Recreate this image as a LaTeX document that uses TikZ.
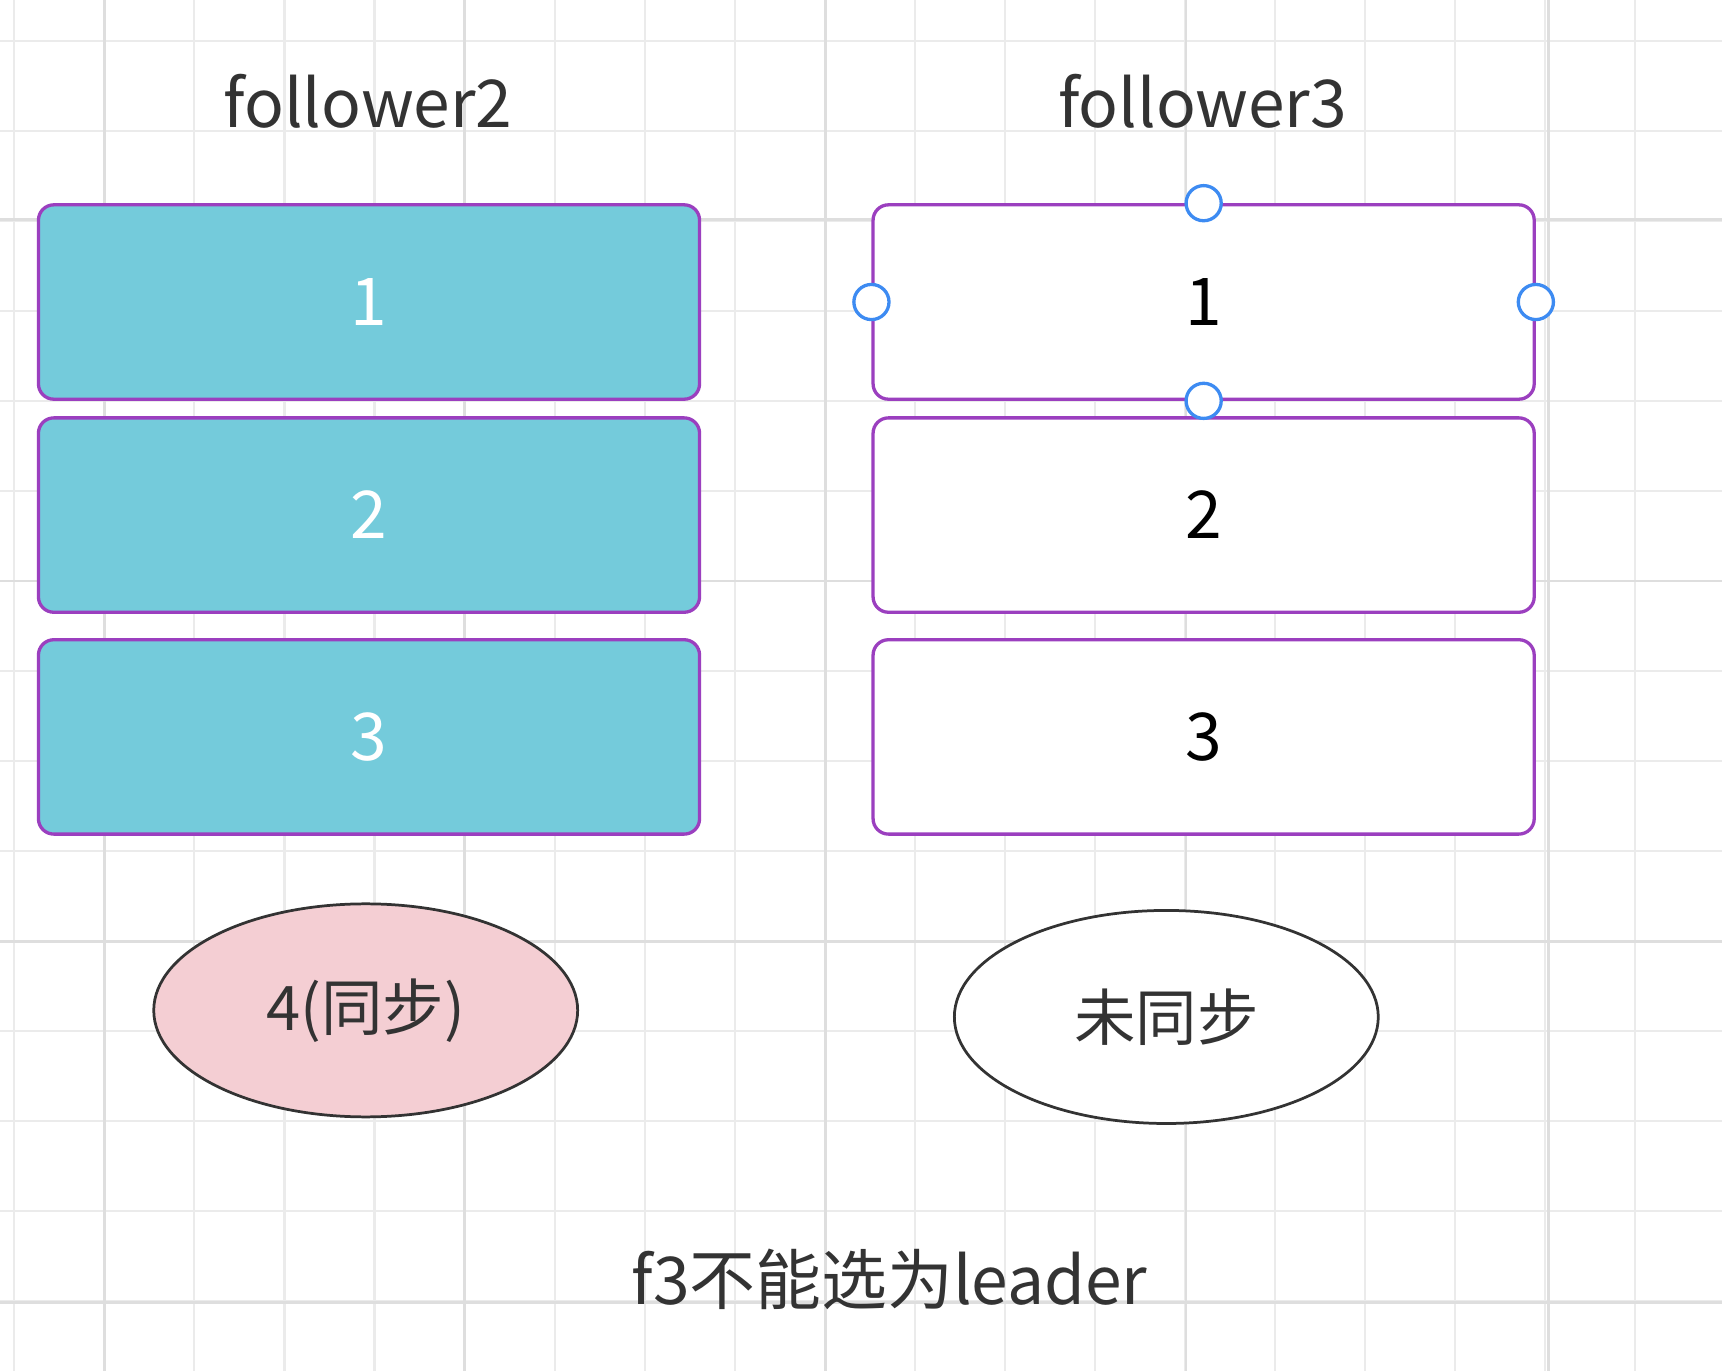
\documentclass[tikz,border=0pt]{standalone}
\usepackage{fontspec}
\setmainfont{Noto Sans CJK SC}
\definecolor{teal1}{HTML}{74CBDB}
\definecolor{purp}{HTML}{9B3FBF}
\definecolor{pinkf}{HTML}{F4CED3}
\definecolor{hand}{HTML}{3D8BF2}
\definecolor{txt}{HTML}{333333}
\tikzset{
 cell/.style={draw=purp,line width=3pt,rounded corners=14pt,minimum width=602pt,minimum height=177pt,font=\fontsize{60}{60}\selectfont},
 full/.style={cell,fill=teal1,text=white},
 empty/.style={cell,fill=white,text=black},
 oval/.style={draw=black!80,line width=2.5pt,ellipse,minimum width=386pt,minimum height=194pt,font=\fontsize{56}{56}\selectfont,text=txt},
 lbl/.style={font=\fontsize{60}{60}\selectfont,text=txt},
 handle/.style={circle,draw=hand,line width=3pt,fill=white,minimum size=32pt,inner sep=0pt}
}
\usetikzlibrary{shapes.geometric}
\begin{document}
\begin{tikzpicture}[x=1pt,y=-1pt]
\useasboundingbox (0,0) rectangle (1568,1248);
\fill[white] (0,0) rectangle (1568,1248);
\foreach \x in {13,95,...,1568} \draw[black!8,line width=2pt] (\x,0) -- (\x,1248);
\foreach \y in {37,119,...,1248} \draw[black!8,line width=2pt] (0,\y) -- (1568,\y);
\foreach \x in {95,423,752,1080,1410} \draw[black!13,line width=2.5pt] (\x,0) -- (\x,1248);
\foreach \y in {200,529,857,1186} \draw[black!13,line width=2.5pt] (0,\y) -- (1568,\y);
\node[lbl] (t2) at (335,92) {follower2};
\node[lbl] (t3) at (1095,92) {follower3};
\node[full] (a1) at (336,275) {1};
\node[full] (a2) at (336,469) {2};
\node[full] (a3) at (336,671) {3};
\node[empty] (b1) at (1096,275) {1};
\node[empty] (b2) at (1096,469) {2};
\node[empty] (b3) at (1096,671) {3};
\node[handle] at (b1.north) {};
\node[handle] at (b1.south) {};
\node[handle] at (b1.west) {};
\node[handle] at (b1.east) {};
\node[oval,fill=pinkf] (e1) at (333,920) {4(同步)};
\node[oval,fill=white] (e2) at (1062,926) {未同步};
\node[lbl] (bot) at (810,1165) {f3不能选为leader};
\end{tikzpicture}
\end{document}
